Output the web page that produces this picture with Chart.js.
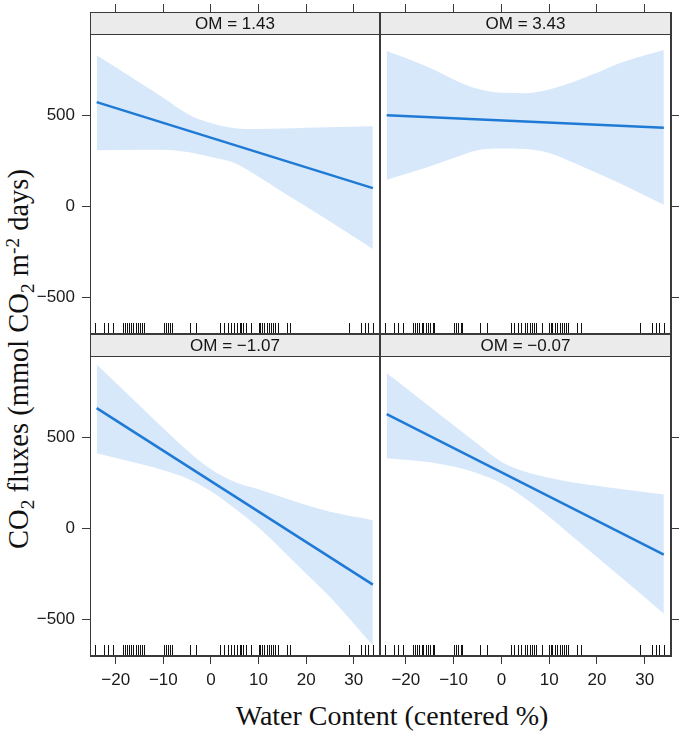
<!DOCTYPE html>
<html>
<head>
<meta charset="utf-8">
<script src="https://cdn.jsdelivr.net/npm/chart.js@4.4.1/dist/chart.umd.min.js"></script>
<style>
  html, body { margin:0; padding:0; background:#fff; }
  body { width:685px; height:731px; position:relative; overflow:hidden; }
  .wrap { position:absolute; }
  .wrap canvas { display:block; }
  #ytitle { position:absolute; left:19px; top:359px; transform:translate(-50%,-50%) rotate(-90deg);
    white-space:nowrap; font-family:'Liberation Serif','Times New Roman',serif; font-size:28.5px; color:#111; line-height:1; }
  #xtitle { position:absolute; left:392px; top:716px; transform:translate(-50%,-50%);
    white-space:nowrap; font-family:'Liberation Serif','Times New Roman',serif; font-size:28px; color:#111; line-height:1; }
  sub, sup { font-size:0.68em; line-height:0; position:relative; vertical-align:baseline; }
  sub { top:0.3em; }
  sup { top:-0.45em; }
</style>
</head>
<body>
<div id="ytitle">CO<sub>2</sub> fluxes (mmol CO<sub>2</sub> m<sup>-2</sup> days)</div>
<div id="xtitle">Water Content (centered %)</div>

<div class="wrap" style="left:20px;top:3px;"><canvas id="tl" width="360" height="331"></canvas></div>
<div class="wrap" style="left:380px;top:3px;"><canvas id="tr" width="301" height="331"></canvas></div>
<div class="wrap" style="left:20px;top:334px;"><canvas id="bl" width="360" height="367"></canvas></div>
<div class="wrap" style="left:380px;top:334px;"><canvas id="br" width="301" height="367"></canvas></div>

<script>
// ---------------- data ----------------
const panelLabels = ['OM = 1.43', 'OM = 3.43', 'OM = \u22121.07', 'OM = \u22120.07'];
const xTicks = [-20, -10, 0, 10, 20, 30];
const yTicks = [-500, 0, 500];

// x positions (water content) where band edges were read
const bandX = [-24, -15, -10, -5, 0, 5, 10, 15, 20, 25, 34];
// x positions of fitted line ends
const lineX = [-24, 34];

// OM = 1.43
const fit143   = [573, 101];
const upper143 = [830, 681, 597, 510, 458, 430, 426, 428, 432, 435, 441];
const lower143 = [309, 312, 312, 299, 272, 239, 163, 80, 0, -82, -233];

// OM = 3.43
const fit343   = [501, 432];
const upper343 = [854, 762, 698, 646, 624, 622, 643, 683, 734, 789, 859];
const lower343 = [147, 220, 266, 309, 318, 316, 294, 242, 184, 125, 9];

// OM = -1.07
const fitm107   = [661, -308];
const upperm107 = [900, 676, 551, 430, 325, 255, 215, 172, 129, 92, 46];
const lowerm107 = [413, 355, 320, 275, 205, 110, 5, -119, -248, -376, -642];

// OM = -0.07
const fitm007   = [628, -143];
const upperm007 = [854, 670, 567, 466, 367, 312, 279, 253, 235, 217, 187];
const lowerm007 = [386, 364, 340, 303, 248, 165, 64, -46, -156, -266, -468];

// rug: observed water content values
const rugX = [-24.3, -22.5, -21.6, -20.5, -18.5, -18.1, -17.7, -17.2, -16.7, -16.3, -15.8, -15.4, -14.9, -14.4, -14.0,
  -9.9, -9.5, -9.1, -8.5, -8.2, -4.5, -3.1,
  2.0, 2.7, 3.5, 4.2, 4.9, 5.4, 6.0, 6.4, 6.8, 7.3, 8.4,
  10.0, 10.3, 10.7, 11.2, 11.7, 12.2, 12.6, 13.1, 13.5, 14.0, 15.9, 16.7,
  29.0, 31.6, 32.3, 33.0, 34.0];

// ---------------- style ----------------
const X_MIN = -25.4, X_MAX = 35.5;
const Y_MIN = -700, Y_MAX = 1068;   // top part of each panel holds the strip
const STRIP_H = 22.5;
const AX = '#3a3a3a';
const LINE = '#1f7ad6';
const BAND = '#d7e8fb';
const STRIP_BG = '#ebebeb';
const TICK_FONT = { family: "'Liberation Sans', Arial, Helvetica, sans-serif", size: 17 };

const fmt = v => (v < 0 ? '\u2212' + Math.abs(v) : String(v));
const noPad = s => { s.paddingTop = 0; s.paddingBottom = 0; s.paddingLeft = 0; s.paddingRight = 0; };

const panelPlugin = {
  id: 'panel',
  afterDatasetsDraw(chart, args, opts) {
    const { ctx, chartArea: a, scales: { x } } = chart;
    ctx.save();
    // rug
    ctx.strokeStyle = '#111';
    ctx.lineWidth = 1;
    ctx.beginPath();
    rugX.forEach(v => {
      const px = Math.round(x.getPixelForValue(v)) + 0.5;
      ctx.moveTo(px, a.bottom);
      ctx.lineTo(px, a.bottom - 11);
    });
    ctx.stroke();
    // strip
    ctx.fillStyle = STRIP_BG;
    ctx.fillRect(a.left, a.top, a.right - a.left, STRIP_H);
    ctx.strokeStyle = AX;
    ctx.lineWidth = 1;
    ctx.beginPath();
    ctx.moveTo(a.left, a.top + STRIP_H);
    ctx.lineTo(a.right, a.top + STRIP_H);
    ctx.stroke();
    ctx.fillStyle = '#151515';
    ctx.font = "17px 'Liberation Sans', Arial, Helvetica, sans-serif";
    ctx.textAlign = 'center';
    ctx.textBaseline = 'middle';
    ctx.fillText(opts.label, (a.left + a.right) / 2, a.top + STRIP_H / 2 + 1);
    // panel border
    ctx.strokeRect(a.left + 0.5, a.top + 0.5, a.right - a.left - 1, a.bottom - a.top - 1);
    ctx.restore();
  }
};

function makePanel(id, label, upper, lower, fit, yPos, xPos) {
  const yLab = yPos === 'left';
  const xLab = xPos === 'bottom';
  return new Chart(document.getElementById(id), {
    type: 'scatter',
    data: {
      datasets: [
        { data: bandX.map((x, i) => ({ x, y: upper[i] })), showLine: true, pointRadius: 0,
          borderWidth: 0, borderColor: 'rgba(0,0,0,0)', backgroundColor: BAND, fill: '+1',
          cubicInterpolationMode: 'monotone', order: 2 },
        { data: bandX.map((x, i) => ({ x, y: lower[i] })), showLine: true, pointRadius: 0,
          borderWidth: 0, borderColor: 'rgba(0,0,0,0)', fill: false,
          cubicInterpolationMode: 'monotone', order: 3 },
        { data: lineX.map((x, i) => ({ x, y: fit[i] })), showLine: true, pointRadius: 0,
          borderWidth: 2.5, borderColor: LINE, fill: false, order: 0 }
      ]
    },
    options: {
      responsive: false,
      animation: false,
      devicePixelRatio: 1,
      layout: { padding: 0, autoPadding: false },
      events: [],
      plugins: {
        legend: { display: false }, tooltip: { enabled: false },
        filler: { drawTime: 'beforeDatasetsDraw', propagate: false },
        panel: { label }
      },
      scales: {
        x: {
          type: 'linear', position: xPos, min: X_MIN, max: X_MAX,
          afterBuildTicks: s => { s.ticks = xTicks.map(v => ({ value: v })); },
          afterFit: s => { s.height = xLab ? 45 : 9; noPad(s); },
          grid: { drawOnChartArea: false, drawTicks: true, tickLength: 8, color: AX, tickColor: AX, lineWidth: 1 },
          border: { display: true, color: AX, width: 1 },
          ticks: { display: xLab, font: TICK_FONT, color: '#1a1a1a', padding: 6, maxRotation: 0,
                   autoSkip: false, callback: fmt }
        },
        y: {
          type: 'linear', position: yPos, min: Y_MIN, max: Y_MAX,
          afterBuildTicks: s => { s.ticks = yTicks.map(v => ({ value: v })); },
          afterFit: s => { s.width = yLab ? 70 : 10; noPad(s); },
          grid: { drawOnChartArea: false, drawTicks: true, tickLength: 8, color: AX, tickColor: AX, lineWidth: 1 },
          border: { display: true, color: AX, width: 1 },
          ticks: { display: yLab, font: TICK_FONT, color: '#1a1a1a', padding: 7, autoSkip: false, callback: fmt }
        }
      }
    },
    plugins: [panelPlugin]
  });
}

makePanel('tl', panelLabels[0], upper143, lower143, fit143, 'left', 'top');
makePanel('tr', panelLabels[1], upper343, lower343, fit343, 'right', 'top');
makePanel('bl', panelLabels[2], upperm107, lowerm107, fitm107, 'left', 'bottom');
makePanel('br', panelLabels[3], upperm007, lowerm007, fitm007, 'right', 'bottom');
</script>
</body>
</html>
